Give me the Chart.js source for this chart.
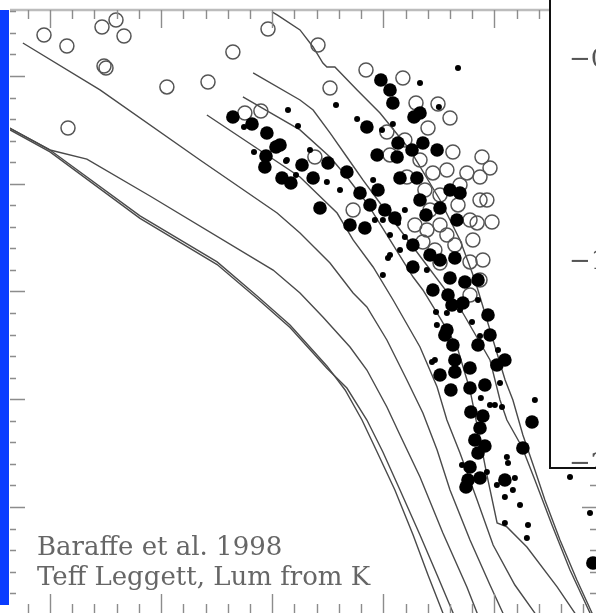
<!DOCTYPE html>
<html>
<head>
<meta charset="utf-8">
<script src="https://cdn.jsdelivr.net/npm/chart.js@4.4.0/dist/chart.umd.min.js"></script>
<style>
  html, body { margin: 0; padding: 0; background: #fff; overflow: hidden; width: 596px; height: 613px; }
  #wrap { position: relative; width: 596px; height: 613px; overflow: hidden; }
  #hr { position: absolute; left: 0; top: 0; }
  #inset { position: absolute; left: 549px; top: 0; width: 300px; height: 467px; background: #fff;
           border-left: 2px solid #111; border-bottom: 2px solid #111; overflow: hidden; }
  #insetChart { position: absolute; left: 0; top: 0; }
  #bar { position: absolute; left: 0; top: 10px; width: 9px; height: 595px; background: #0a3cff; }
</style>
</head>
<body>
<div id="wrap">
  <canvas id="hr" width="620" height="640"></canvas>
  <div id="inset"><canvas id="insetChart" width="300" height="520"></canvas></div>
  <div id="bar"></div>
</div>
<script>
// Baraffe et al. 1998 isochrones, [Teff (K), log L/Lsun]
const isoC1 = [[4207,-1.455],[4000,-1.687],[3595,-2.299],[3248,-2.726],[3068,-3.042],[2920,-3.311],[2754,-3.691],[2672,-3.914],[2596,-4.193],[2528,-4.490],[2448,-4.842],[2366,-5.260],[2299,-5.631],[2232,-5.984],[2204,-6.141]];
const isoC2 = [[4207,-1.470],[4000,-1.705],[3595,-2.322],[3248,-2.750],[3068,-3.065],[2920,-3.335],[2754,-3.712],[2664,-3.896],[2574,-4.193],[2502,-4.490],[2425,-4.842],[2335,-5.260],[2258,-5.631],[2186,-5.984],[2155,-6.141]];
const isoB = [[4207,-1.455],[4000,-1.687],[3834,-1.771],[3550,-2.114],[2996,-2.801],[2875,-3.014],[2772,-3.237],[2650,-3.515],[2574,-3.729],[2484,-4.072],[2425,-4.332],[2335,-4.722],[2232,-5.241],[2124,-5.742],[2078,-5.984],[2052,-6.141]];
const isoA = [[4122,-0.694],[3775,-1.130],[3325,-1.780],[2978,-2.272],[2875,-2.457],[2740,-2.736],[2636,-3.014],[2574,-3.144],[2484,-3.450],[2394,-3.821],[2322,-4.128],[2258,-4.471],[2200,-4.842],[2110,-5.306],[2020,-5.724],[1962,-5.984],[1930,-6.141]];
const isoF = [[3294,-1.362],[2875,-1.938],[2708,-2.272],[2636,-2.522],[2546,-2.773],[2456,-3.079],[2335,-3.515],[2258,-3.886],[2214,-4.193],[2155,-4.499],[2078,-4.935],[2006,-5.353],[1908,-5.724],[1818,-5.984],[1772,-6.141]];
const isoE = [[3132,-1.195],[2875,-1.501],[2740,-1.752],[2664,-1.938],[2574,-2.179],[2470,-2.522],[2366,-2.866],[2322,-2.986],[2245,-3.246],[2168,-3.515],[2110,-3.914],[2065,-4.378],[2034,-4.703],[1988,-5.148],[1944,-5.185],[1854,-5.371],[1718,-5.742],[1638,-5.984],[1592,-6.141]];
const isoD = [[3086,-0.972],[2875,-1.223],[2816,-1.316],[2740,-1.529],[2664,-1.752],[2592,-1.965],[2502,-2.216],[2366,-2.587],[2142,-3.200],[2020,-3.636],[1975,-4.007],[1944,-4.193],[1876,-4.443],[1818,-4.749],[1741,-5.167],[1660,-5.585],[1570,-5.984],[1534,-6.141]];
const isoG = [[3001,-0.406],[2978,-0.434],[2875,-0.573],[2816,-0.731],[2772,-0.880],[2754,-0.917],[2718,-0.917],[2618,-1.130],[2515,-1.344],[2380,-1.687],[2245,-2.151],[2155,-2.522],[2088,-2.893],[2020,-3.357],[1952,-3.821],[1917,-4.007],[1872,-4.332],[1818,-4.657],[1773,-4.935],[1705,-5.306],[1629,-5.677],[1561,-5.984],[1525,-6.141]];

// Leggett objects: large and small filled symbols, open symbols
const bigDots = [[3177,-1.381],[3091,-1.446],[3024,-1.529],[2983,-1.659],[3028,-1.743],[3033,-1.845],[2956,-1.947],[2916,-1.993],
  [2511,-1.037],[2470,-1.130],[2457,-1.251],[2362,-1.381],[2335,-1.344],[2574,-1.474],[2434,-1.622],[2371,-1.687],[2322,-1.622],[2258,-1.687],[2528,-1.733],[2438,-1.752],
  [2965,-1.641],[2866,-1.826],[2816,-1.947],[2749,-1.808],[2664,-1.891],[2785,-2.225],[2605,-2.086],[2524,-2.058],[2349,-1.947],[2200,-2.058],[2155,-2.086],[2335,-2.151],
  [2560,-2.197],[2493,-2.244],[2448,-2.318],[2650,-2.383],[2583,-2.411],[2169,-2.337],[2367,-2.569],[2245,-2.708],[2178,-2.689],[2200,-2.875],[2133,-2.912],[2277,-2.986],
  [2209,-3.033],[2367,-2.773],[2290,-2.661],[2074,-2.893],[2029,-3.218],[2223,-3.404],[2187,-3.497],[2074,-3.497],[2020,-3.404],[1953,-3.636],[1989,-3.682],[2245,-3.775],
  [2178,-3.747],[2110,-3.710],[2196,-3.914],[2110,-3.896],[2043,-3.868],[2191,-3.125],[2142,-3.107],[2214,-3.357],[2178,-3.636],[2106,-4.118],[2052,-4.156],[2065,-4.267],
  [2088,-4.378],[2043,-4.434],[2074,-4.499],[1872,-4.452],[1831,-4.211],[2110,-4.629],[2119,-4.749],[2065,-4.731],[2128,-4.814],[1953,-4.749],[1557,-5.520],
  [2245,-2.225],[2425,-1.947],[2308,-2.290]];
const smallDots = [[3127,-1.474],[2929,-1.316],[3082,-1.706],[2938,-1.789],[2884,-1.464],[2335,-1.065],[2164,-0.926],[2713,-1.269],[2618,-1.399],[2457,-1.446],
  [2934,-1.780],[2754,-1.984],[2546,-1.965],[2538,-2.337],[2470,-2.476],[2425,-2.615],[2479,-2.689],[2502,-2.847],[2304,-2.801],[2146,-3.079],[2403,-2.244],[2502,-2.337],
  [2434,-2.364],[2403,-2.494],[2470,-2.661],[2074,-3.079],[2214,-3.200],[2155,-3.172],[2101,-3.283],[2259,-3.311],[1984,-3.543],[2268,-3.636],[1975,-3.849],[2263,-3.190],
  [2065,-3.413],[2281,-3.654],[2061,-3.988],[2020,-4.053],[2146,-4.610],[2034,-4.675],[1939,-4.592],[1818,-4.007],[1998,-4.053],[1966,-4.072],[1944,-4.536],[1908,-4.731],
  [1989,-4.796],[1917,-4.842],[1953,-4.907],[1885,-4.981],[1953,-5.148],[1849,-5.167],[1854,-5.288],[1660,-4.722],[1570,-5.056],[2893,-1.919],[2695,-2.058],[2830,-1.687],
  [2250,-1.288],[2506,-1.501]];
const openDots = [[4027,-0.620],[3924,-0.722],[3766,-0.546],[3703,-0.481],[3667,-0.629],[3757,-0.908],[3748,-0.926],[3919,-1.483],[3474,-1.102],[3289,-1.056],
  [3177,-0.778],[3019,-0.564],[3123,-1.344],[3051,-1.325],[2794,-0.713],[2578,-0.945],[2740,-1.112],[2412,-1.019],[2353,-1.251],[2254,-1.260],[2200,-1.390],[2484,-1.520],
  [2187,-1.706],[2056,-1.752],[2020,-1.854],[2470,-1.733],[2808,-1.752],[2394,-1.938],[2277,-1.900],[2214,-1.873],[2124,-1.900],[2065,-1.938],[2034,-2.151],[2110,-2.337],
  [2011,-2.355],[2322,-2.541],[2214,-2.476],[2097,-2.522],[2110,-2.726],[2065,-2.893],[2110,-3.033],[2245,-2.105],[2290,-2.244],[2164,-2.197],[2358,-2.383],[2245,-2.383],
  [2178,-2.569],[2268,-2.615],[2052,-2.708],[2155,-2.012],[2313,-2.058],[2636,-2.244],[2065,-2.151],[2078,-2.364],[2304,-2.429],[2245,-2.736],[2335,-1.780],[2299,-1.483],
  [2403,-1.594]];

// inset axis tick values
const insetTicks = [-0.5, -1, -1.5, -2, -2.5];

const captionLines = ['Baraffe et al. 1998', 'Teff Leggett, Lum from K'];

// inward tick marks on all four sides, top frame line and caption
const frameTicks = {
  id: 'frameTicks',
  afterDraw(chart) {
    const { ctx, chartArea: a, scales: { x, y } } = chart;
    ctx.save();
    ctx.strokeStyle = '#bcbcbc';
    ctx.lineWidth = 2.5;
    ctx.beginPath();
    ctx.moveTo(a.left, a.top);
    ctx.lineTo(a.right, a.top);
    ctx.stroke();

    ctx.strokeStyle = '#8c8c8c';
    ctx.lineWidth = 1.4;
    ctx.beginPath();
    x.ticks.forEach(t => {
      const px = Math.round(x.getPixelForValue(t.value)) + 0.5;
      const major = t.value % 500 === 0;
      ctx.moveTo(px, a.top);
      ctx.lineTo(px, a.top + (major ? 18 : 9));
      ctx.moveTo(px, a.bottom);
      ctx.lineTo(px, a.bottom - (major ? 20 : 10));
    });
    y.ticks.forEach(t => {
      const py = Math.round(y.getPixelForValue(t.value)) + 0.5;
      const major = Math.abs(t.value - Math.round(t.value)) < 1e-6;
      ctx.moveTo(a.left, py);
      ctx.lineTo(a.left + (major ? 15 : 6), py);
      ctx.moveTo(a.right, py);
      ctx.lineTo(a.right - (major ? 15 : 7), py);
    });
    ctx.stroke();

    ctx.fillStyle = '#666';
    ctx.font = '26px "DejaVu Serif"';
    ctx.textBaseline = 'alphabetic';
    ctx.fillText(captionLines[0], 37, 555);
    ctx.fillText(captionLines[1], 37, 585);
    ctx.restore();
  }
};

const hidden = {
  ticks: { display: false },
  grid: { display: false, drawTicks: false },
  border: { display: false }
};

const isoLines = [isoC1, isoC2, isoB, isoA, isoF, isoE, isoD, isoG].map(d => ({
  data: d,
  showLine: true,
  pointRadius: 0,
  borderColor: '#4a4a4a',
  borderWidth: 1.4,
  order: 3
}));

new Chart(document.getElementById('hr'), {
  type: 'scatter',
  data: {
    datasets: [
      { data: bigDots, pointRadius: 6.8, backgroundColor: '#000', borderWidth: 0, order: 0 },
      { data: smallDots, pointRadius: 3, backgroundColor: '#000', borderWidth: 0, order: 1 },
      { data: openDots, pointRadius: 7, backgroundColor: 'rgba(255,255,255,0)', borderColor: '#555', borderWidth: 1.5, order: 2 },
      ...isoLines
    ]
  },
  options: {
    responsive: false,
    animation: false,
    events: [],
    layout: { padding: { left: 10, top: 10, right: 23, bottom: 26 } },
    plugins: { legend: { display: false }, tooltip: { enabled: false } },
    scales: {
      x: {
        type: 'linear', reverse: true, min: 1538.5, max: 4180, ...hidden,
        afterBuildTicks: s => {
          const t = [];
          for (let v = 1600; v <= 4100; v += 100) t.push({ value: v });
          s.ticks = t;
        }
      },
      y: {
        type: 'linear', min: -5.993, max: -0.388, ...hidden,
        afterBuildTicks: s => {
          const t = [];
          for (let k = -29; k <= -2; k++) t.push({ value: k / 5 });
          s.ticks = t;
        }
      }
    }
  },
  plugins: [frameTicks]
});

// inset panel: its left axis labels sit just past the visible edge
new Chart(document.getElementById('insetChart'), {
  type: 'scatter',
  data: { datasets: [] },
  options: {
    responsive: false,
    animation: false,
    events: [],
    layout: { padding: { left: 18, top: 0, right: 0, bottom: 0 } },
    plugins: { legend: { display: false }, tooltip: { enabled: false } },
    scales: {
      x: { display: false, min: 0, max: 1 },
      y: {
        min: -2.777, max: -0.203,
        grid: { display: false, drawTicks: false },
        border: { display: false },
        afterBuildTicks: s => { s.ticks = insetTicks.map(v => ({ value: v })); },
        afterFit: s => { s.paddingTop = 0; s.paddingBottom = 0; },
        ticks: {
          padding: 0,
          color: '#555',
          font: { family: 'DejaVu Serif', size: 26 },
          callback: v => (v < 0 ? '\u2212' : '') + Math.abs(v)
        }
      }
    }
  }
});
</script>
</body>
</html>
